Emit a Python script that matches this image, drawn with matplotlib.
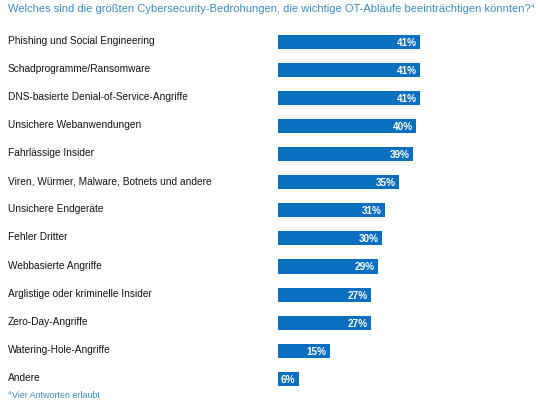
import matplotlib
matplotlib.use('Agg')
import matplotlib.pyplot as plt
from matplotlib import transforms

plt.rcParams['font.family'] = ['Liberation Sans', 'DejaVu Sans']

# data
categories = [
    'Phishing und Social Engineering',
    'Schadprogramme/Ransomware',
    'DNS-basierte Denial-of-Service-Angriffe',
    'Unsichere Webanwendungen',
    'Fahrlässige Insider',
    'Viren, Würmer, Malware, Botnets und andere',
    'Unsichere Endgeräte',
    'Fehler Dritter',
    'Webbasierte Angriffe',
    'Arglistige oder kriminelle Insider',
    'Zero-Day-Angriffe',
    'Watering-Hole-Angriffe',
    'Andere',
]
values = [41, 41, 41, 40, 39, 35, 31, 30, 29, 27, 27, 15, 6]

title = 'Welches sind die größten Cybersecurity-Bedrohungen, die wichtige OT-Abläufe beeinträchtigen könnten?'
footnote = 'Vier Antworten erlaubt'

BAR_COLOR = '#0a6fc0'
BLUE_TEXT = '#3b8cc2'
LABEL_COLOR = '#141414'

fig = plt.figure(figsize=(5.4, 4.06), dpi=100, facecolor='white')
ax = fig.add_axes([278 / 540, 0.0296, 262 / 540, 0.9296 - 0.0296])

pos = list(range(len(categories)))
ax.barh(pos, values, height=0.5, color=BAR_COLOR)
ax.set_xlim(0, 262 / 3.46)
ax.set_ylim(len(categories) - 0.5, -0.5)
ax.set_axis_off()

# category labels at the left edge of the figure
lab_tr = transforms.blended_transform_factory(fig.transFigure, ax.transData)
for p, cat in zip(pos, categories):
    ax.text(8 / 540, p - 0.07, cat, transform=lab_tr, ha='left', va='center',
            fontsize=7.3, color=LABEL_COLOR)

for p, v in zip(pos, values):
    ax.text(v - 1.0, p, f'{v}%', ha='right', va='center', fontsize=7.2,
            color='white', weight='bold')

t = fig.text(8 / 540, 1 - 9 / 406, title, ha='left', va='center',
             fontsize=8.0, color=BLUE_TEXT)
fig.canvas.draw()
bb = t.get_window_extent(fig.canvas.get_renderer())
fig.text(bb.x1 / fig.bbox.width + 0.001, 1 - 6 / 406, '4', ha='left', va='center',
         fontsize=4.5, color=BLUE_TEXT)
fig.text(8 / 540, 1 - 394 / 406, '4', ha='left', va='center',
         fontsize=4, color=BLUE_TEXT)
fig.text(11.5 / 540, 1 - 396 / 406, footnote, ha='left', va='center',
         fontsize=6.4, color=BLUE_TEXT)

fig.savefig('out.png', dpi=100, facecolor='white')
